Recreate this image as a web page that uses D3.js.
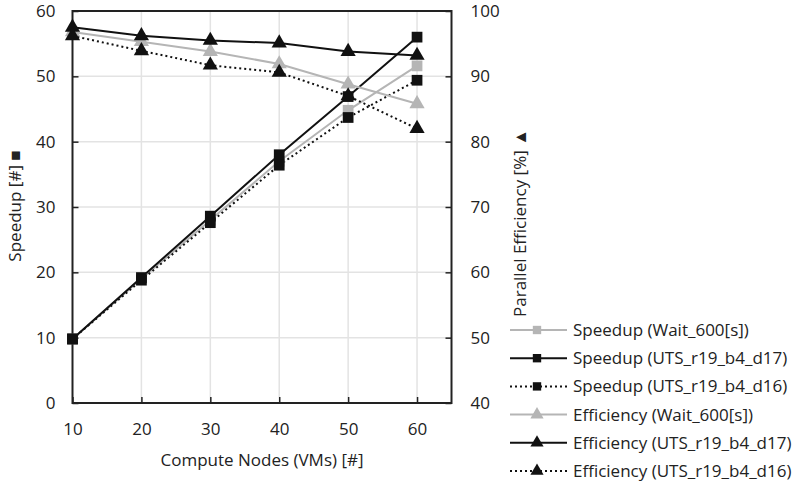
<!DOCTYPE html>
<html>
<head>
<meta charset="utf-8">
<style>
body { margin: 0; background: #fff; }
svg text { font-family: "Open Sans", sans-serif; fill: #222; }
</style>
<script src="https://cdn.jsdelivr.net/npm/d3@7/dist/d3.min.js"></script>
</head>
<body>
<svg id="chart" width="806" height="485"></svg>
<script>
var nodes = [10, 20, 30, 40, 50, 60];

var speedupWait = [9.8, 19.0, 28.0, 37.0, 44.8, 51.6];
var speedupD17 = [9.8, 19.2, 28.6, 38.0, 46.9, 56.0];
var speedupD16 = [9.8, 18.8, 27.6, 36.4, 43.7, 49.4];

var effWait = [96.8, 95.3, 93.8, 91.9, 88.8, 85.8];
var effD17 = [97.5, 96.2, 95.5, 95.1, 93.8, 93.2];
var effD16 = [96.2, 93.9, 91.7, 90.6, 87.0, 82.0];

var leftTicks = [0, 10, 20, 30, 40, 50, 60];
var rightTicks = [40, 50, 60, 70, 80, 90, 100];

var gray = "#b5b5b5", black = "#111";

var series = [
	{name: "Speedup (Wait_600[s])", values: speedupWait, axis: "left", color: gray, dash: null, marker: "square"},
	{name: "Speedup (UTS_r19_b4_d17)", values: speedupD17, axis: "left", color: black, dash: null, marker: "square"},
	{name: "Speedup (UTS_r19_b4_d16)", values: speedupD16, axis: "left", color: black, dash: "2,3", marker: "square"},
	{name: "Efficiency (Wait_600[s])", values: effWait, axis: "right", color: gray, dash: null, marker: "triangle"},
	{name: "Efficiency (UTS_r19_b4_d17)", values: effD17, axis: "right", color: black, dash: null, marker: "triangle"},
	{name: "Efficiency (UTS_r19_b4_d16)", values: effD16, axis: "right", color: black, dash: "2,3", marker: "triangle"}
];

var pLeft = 72.5, pRight = 451.5, pTop = 11, pBottom = 403;
var svg = d3.select("#chart");

var x = d3.scaleLinear().domain([10, 65]).range([pLeft, pRight]);
var yL = d3.scaleLinear().domain([0, 60]).range([pBottom, pTop]);
var yR = d3.scaleLinear().domain([40, 100]).range([pBottom, pTop]);

// grid
svg.append("g").selectAll("line").data(nodes.slice(1)).enter().append("line")
	.attr("x1", function (d) { return x(d); }).attr("x2", function (d) { return x(d); })
	.attr("y1", pTop).attr("y2", pBottom)
	.attr("stroke", "#e3e3e3").attr("stroke-width", 1.5);
svg.append("g").selectAll("line").data(leftTicks.slice(1, -1)).enter().append("line")
	.attr("x1", pLeft).attr("x2", pRight)
	.attr("y1", function (d) { return yL(d); }).attr("y2", function (d) { return yL(d); })
	.attr("stroke", "#e3e3e3").attr("stroke-width", 1.5);

// axes
var xAxis = d3.axisBottom(x).tickValues(nodes).tickSizeInner(-6).tickSizeOuter(0).tickPadding(20);
var gx = svg.append("g").attr("transform", "translate(0," + pBottom + ")").call(xAxis);
var lAxis = d3.axisLeft(yL).tickValues(leftTicks).tickSizeInner(-6).tickSizeOuter(0).tickPadding(17);
var gl = svg.append("g").attr("transform", "translate(" + pLeft + ",0)").call(lAxis);
var rAxis = d3.axisRight(yR).tickValues(rightTicks).tickSizeInner(-6).tickSizeOuter(0).tickPadding(19);
var gr = svg.append("g").attr("transform", "translate(" + pRight + ",0)").call(rAxis);
[gx, gl, gr].forEach(function (g) {
	g.select(".domain").remove();
	g.selectAll(".tick line").attr("stroke", "#222").attr("stroke-width", 1.5);
	g.selectAll(".tick text").style("font-size", "17px").attr("fill", "#222");
});

svg.append("rect").attr("x", pLeft).attr("y", pTop)
	.attr("width", pRight - pLeft).attr("height", pBottom - pTop)
	.attr("fill", "none").attr("stroke", "#222").attr("stroke-width", 2);

// axis titles
svg.append("text").attr("x", 262).attr("y", 466).attr("text-anchor", "middle")
	.style("font-size", "17px").text("Compute Nodes (VMs) [#]");
svg.append("text").attr("transform", "translate(21,206) rotate(-90)").attr("text-anchor", "middle")
	.style("font-size", "17px").text("Speedup [#] \u25A0");
svg.append("text").attr("transform", "translate(526,223) rotate(-90)").attr("text-anchor", "middle")
	.style("font-size", "17px").text("Parallel Efficiency  [%]  \u25B2");

var sym = {
	square: d3.symbol().type(d3.symbolSquare).size(115),
	triangle: d3.symbol().type(d3.symbolTriangle).size(100)
};

// lines
series.forEach(function (s) {
	var yS = s.axis == "left" ? yL : yR;
	var line = d3.line().x(function (d, i) { return x(nodes[i]); }).y(function (d) { return yS(d); });
	svg.append("path").datum(s.values).attr("d", line)
		.attr("fill", "none").attr("stroke", s.color).attr("stroke-width", 2)
		.attr("stroke-dasharray", s.dash);
});
series.forEach(function (s) {
	var yS = s.axis == "left" ? yL : yR;
	svg.append("g").selectAll("path").data(s.values).enter().append("path")
		.attr("d", sym[s.marker])
		.attr("transform", function (d, i) { return "translate(" + x(nodes[i]) + "," + yS(d) + ")"; })
		.attr("fill", s.color);
});

// legend
var lg = svg.append("g").selectAll("g").data(series).enter().append("g")
	.attr("transform", function (d, i) { return "translate(0," + (330 + i * 28.2) + ")"; });
lg.append("line").attr("x1", 510).attr("x2", 567).attr("y1", 0).attr("y2", 0)
	.attr("stroke", function (d) { return d.color; }).attr("stroke-width", 2)
	.attr("stroke-dasharray", function (d) { return d.dash; });
lg.append("path").attr("d", function (d) { return d3.symbol().type(d.marker == "square" ? d3.symbolSquare : d3.symbolTriangle).size(d.marker == "square" ? 70 : 75)(); })
	.attr("transform", "translate(537,0)")
	.attr("fill", function (d) { return d.color; });
lg.append("text").attr("x", 573).attr("y", 0).attr("dy", "0.35em")
	.style("font-size", "17px").text(function (d) { return d.name; });
</script>
</body>
</html>
